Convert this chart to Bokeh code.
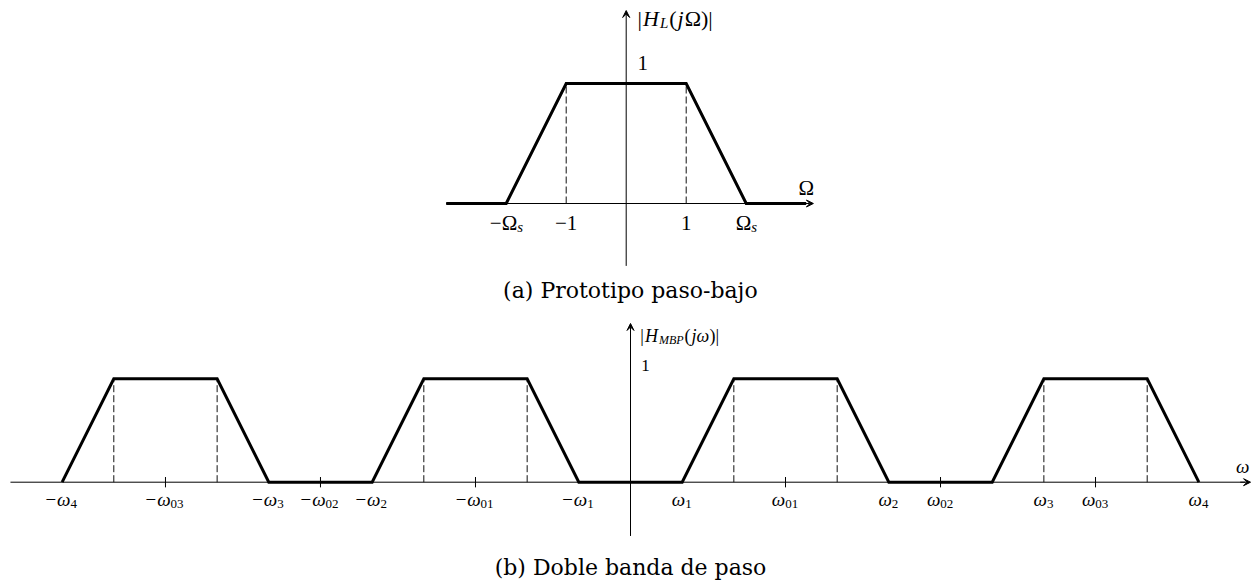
from bokeh.plotting import figure
from bokeh.layouts import column
from bokeh.models import Arrow, VeeHead, Range1d
from bokeh.core.properties import value
from bokeh.embed import file_html
from bokeh.resources import INLINE

# ---------------- (a) low-pass prototype ----------------
lp_freq = [-3, -2, -1, 1, 2, 3]
lp_mag = [0, 0, 1, 1, 0, 0]
lp_edges = [-1, 1]
lp_tick_pos = [-2, -1, 1, 2]
lp_tick_main = ["−Ω", "−1", "1", "Ω"]
lp_tick_sub = ["s", "", "", "s"]
lp_level = 1

# ---------------- (b) double pass-band (mirrored) ----------------
bp_freq = [-11, -10, -8, -7, -5, -4, -2, -1, 1, 2, 4, 5, 7, 8, 10, 11]
bp_mag = [0, 1, 1, 0, 0, 1, 1, 0, 0, 1, 1, 0, 0, 1, 1, 0]
bp_edges = [-10, -8, -4, -2, 2, 4, 8, 10]
bp_centers = [-9, -6, -3, 3, 6, 9]
bp_tick_pos = [-11, -9, -7, -6, -5, -3, -1, 1, 3, 5, 6, 8, 9, 11]
bp_tick_main = ["−ω", "−ω", "−ω", "−ω", "−ω", "−ω", "−ω",
                "ω", "ω", "ω", "ω", "ω", "ω", "ω"]
bp_tick_sub = ["4", "03", "3", "02", "2", "01", "1",
               "1", "01", "2", "02", "3", "03", "4"]
bp_level = 1

MATH = "Liberation Serif"
CAPTION = "DejaVu Serif"

# approximate advance widths (em) used to centre composite labels
ADV = {"−": 0.564, "ω": 0.66, "Ω": 0.768, "s": 0.389, "1": 0.5,
       "0": 0.5, "2": 0.5, "3": 0.5, "4": 0.5}


def text_width(s, size):
    return sum(ADV.get(c, 0.5) for c in s) * size


def make_fig(x0, x1, y0, y1, h):
    p = figure(width=1257, height=h, output_backend="svg", toolbar_location=None,
               x_range=Range1d(x0, x1), y_range=Range1d(y0, y1),
               min_border=0, min_border_left=0, min_border_right=0,
               min_border_top=0, min_border_bottom=0)
    p.axis.visible = False
    p.grid.visible = False
    p.outline_line_color = None
    p.background_fill_color = "white"
    p.border_fill_color = "white"
    return p


def sub_labels(p, xs, y, mains, subs, size, sub_size, main_style, sub_style, drop):
    offs = []
    for m, s in zip(mains, subs):
        wm = text_width(m, size)
        ws = text_width(s, sub_size)
        offs.append((wm - ws) / 2.0)
    p.text(x=xs, y=[y] * len(xs), text=mains, x_offset=offs,
           text_align="right", text_baseline="alphabetic",
           text_font=value(MATH), text_font_size=f"{size}px",
           text_font_style=main_style, text_color="black")
    p.text(x=xs, y=[y] * len(xs), text=subs, x_offset=offs, y_offset=drop,
           text_align="left", text_baseline="alphabetic",
           text_font=value(MATH), text_font_size=f"{sub_size}px",
           text_font_style=sub_style, text_color="black")


def run_text(p, x, y, pieces):
    # pieces: (text, size, style, y_drop)
    off = 0.0
    for t, size, style, drop in pieces:
        p.text(x=[x], y=[y], text=[t], x_offset=off, y_offset=drop,
               text_align="left", text_baseline="alphabetic",
               text_font=value(MATH), text_font_size=f"{size}px",
               text_font_style=style, text_color="black")
        w = 0.0
        for c in t:
            w += {"|": 0.2, "H": 0.722, "L": 0.556, "M": 0.833, "B": 0.611,
                  "P": 0.611, "(": 0.333, ")": 0.333, "j": 0.278,
                  "Ω": 0.768, "ω": 0.66}.get(c, 0.5) * size
        off += w + 1.0


# ================= top panel =================
top = make_fig(-625.7 / 60, (1257 - 625.7) / 60, (203 - 310) / 120, 203 / 120, 310)

# axes
top.line(x=[-3, 3.0], y=[0, 0], line_color="black", line_width=1)
top.add_layout(Arrow(x_start=2.9, y_start=0, x_end=3.12, y_end=0,
                     line_color="black", line_width=1,
                     end=VeeHead(size=7, line_color="black", fill_color="black", line_width=1)))
top.add_layout(Arrow(x_start=0, y_start=-0.52, x_end=0, y_end=1.608,
                     line_color="black", line_width=1,
                     end=VeeHead(size=7, line_color="black", fill_color="black", line_width=1)))

# pass-band edge guides
top.segment(x0=lp_edges, y0=[0] * len(lp_edges), x1=lp_edges, y1=[lp_level] * len(lp_edges),
            line_color="#111111", line_width=1, line_dash="7 3")

# magnitude response
top.line(x=lp_freq, y=lp_mag, line_color="black", line_width=3, line_join="miter")

# tick labels
sub_labels(top, lp_tick_pos, -0.165, lp_tick_main, lp_tick_sub, 21, 15,
           "normal", "italic", 4)

# axis labels
top.text(x=[2.87], y=[0.13], text=["Ω"], text_align="left", text_baseline="alphabetic",
         text_font=value(MATH), text_font_size="21px", text_color="black")
top.text(x=[0.19], y=[1.175], text=["1"], text_align="left", text_baseline="alphabetic",
         text_font=value(MATH), text_font_size="21px", text_color="black")
run_text(top, 0.19, 1.54, [("|", 22, "normal", 0), ("H", 22, "italic", 0),
                           ("L", 15, "italic", 4), ("(", 22, "normal", 0),
                           ("j", 22, "italic", 0), ("Ω)|", 22, "normal", 0)])

top.text(x=[0.07], y=[-0.725], text=["(a) Prototipo paso-bajo"], text_align="center",
         text_baseline="middle", text_font=value(CAPTION), text_font_size="22px",
         text_color="black")

# ================= bottom panel =================
U = 51.67
V = 103.4
Y0 = 481.7
bot = make_fig(-630 / U, (1257 - 630) / U, (Y0 - 583) / V, (Y0 - 310) / V, 273)

bot.line(x=[-12, 11.9], y=[0, 0], line_color="black", line_width=1)
bot.add_layout(Arrow(x_start=11.8, y_start=0, x_end=12.0, y_end=0,
                     line_color="black", line_width=1,
                     end=VeeHead(size=7, line_color="black", fill_color="black", line_width=1)))
bot.add_layout(Arrow(x_start=0, y_start=-0.52, x_end=0, y_end=1.535,
                     line_color="black", line_width=1,
                     end=VeeHead(size=7, line_color="black", fill_color="black", line_width=1)))

# centre-frequency tick marks
bot.segment(x0=bp_centers, y0=[-0.05] * len(bp_centers), x1=bp_centers,
            y1=[0.05] * len(bp_centers), line_color="black", line_width=1)

bot.segment(x0=bp_edges, y0=[0] * len(bp_edges), x1=bp_edges, y1=[bp_level] * len(bp_edges),
            line_color="#111111", line_width=1, line_dash="7 3")

bot.line(x=bp_freq, y=bp_mag, line_color="black", line_width=3, line_join="miter")

sub_labels(bot, bp_tick_pos, -0.17, bp_tick_main, bp_tick_sub, 19, 13,
           "italic", "normal", 4)

bot.text(x=[11.85], y=[0.15], text=["ω"], text_align="center", text_baseline="alphabetic",
         text_font=value(MATH), text_font_size="19px", text_font_style="italic",
         text_color="black")
bot.text(x=[0.21], y=[1.13], text=["1"], text_align="left", text_baseline="alphabetic",
         text_font=value(MATH), text_font_size="17px", text_color="black")
run_text(bot, 0.19, 1.41, [("|", 18, "normal", 0), ("H", 18, "italic", 0),
                           ("MBP", 12, "italic", 4), ("(", 18, "normal", 0),
                           ("jω", 18, "italic", 0), (")|", 18, "normal", 0)])

bot.text(x=[0.0], y=[-0.825], text=["(b) Doble banda de paso"], text_align="center",
         text_baseline="middle", text_font=value(CAPTION), text_font_size="22px",
         text_color="black")

layout = column(top, bot, spacing=0)
open("out.html", "w").write(file_html(layout, INLINE))
